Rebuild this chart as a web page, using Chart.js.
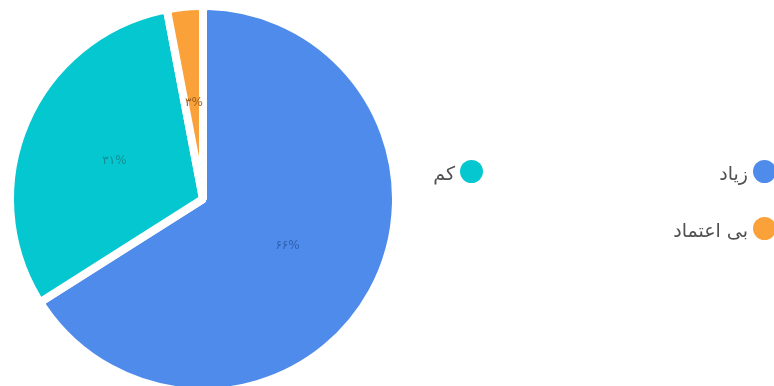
<!DOCTYPE html>
<html lang="fa">
<head>
<meta charset="utf-8">
<title>نمودار اعتماد</title>
<script src="https://cdn.jsdelivr.net/npm/chart.js@4/dist/chart.umd.min.js"></script>
<style>
    html, body { margin: 0; padding: 0; background: #fff; }
    .wrap { position: relative; width: 774px; height: 386px; overflow: hidden; }
    #trustChart { position: absolute; left: 0; top: 0; }
    #legendBox {
        position: absolute;
        right: -2px;
        top: 160px;
        margin: 0;
        padding: 0;
        list-style: none;
        direction: rtl;
        display: grid;
        grid-template-columns: 293px auto;
        row-gap: 34px;
        font-family: "DejaVu Sans", sans-serif;
        font-size: 19px;
        color: #505050;
    }
    #legendBox li { display: flex; align-items: center; height: 23px; cursor: pointer; }
    #legendBox .dot { width: 23px; height: 23px; border-radius: 50%; margin-left: 5px; flex: none; }
    #legendBox .txt { position: relative; top: 1px; }
    #legendBox li.off span.txt { text-decoration: line-through; }
</style>
</head>
<body>
<div class="wrap">
    <canvas id="trustChart" width="774" height="386"></canvas>
    <ul id="legendBox"></ul>
</div>
<script>
// Chart data
const categories = ['زیاد', 'کم', 'بی اعتماد'];
const values = [66, 31, 3];
const sliceColors = ['#4F8BEA', '#05C7CF', '#FBA13A'];
const valueColors = ['#3060B0', '#138E94', '#9A5C18'];

const faDigits = '۰۱۲۳۴۵۶۷۸۹';
function toPersian(n) {
    return String(n).replace(/[0-9]/g, d => faDigits[d]);
}

// Draws the percentage in the middle of every slice
const sliceValues = {
    id: 'sliceValues',
    afterDatasetsDraw(chart) {
        const ctx = chart.ctx;
        const meta = chart.getDatasetMeta(0);
        ctx.save();
        ctx.font = '12px "DejaVu Sans", sans-serif';
        ctx.textAlign = 'center';
        ctx.textBaseline = 'middle';
        meta.data.forEach((arc, i) => {
            if (!chart.getDataVisibility(i)) return;
            const p = arc.getCenterPoint();
            ctx.fillStyle = valueColors[i];
            ctx.fillText(toPersian(values[i]) + '%', p.x, p.y);
        });
        ctx.restore();
    }
};

// Builds the legend as a list next to the canvas
const htmlLegend = {
    id: 'htmlLegend',
    afterUpdate(chart) {
        const ul = document.getElementById('legendBox');
        ul.innerHTML = '';
        const items = chart.options.plugins.legend.labels.generateLabels(chart);
        items.forEach(item => {
            const li = document.createElement('li');
            if (item.hidden) li.className = 'off';
            li.innerHTML = `<span class="dot" style="background:${item.fillStyle}"></span><span class="txt">${item.text}</span>`;
            li.onclick = () => {
                chart.toggleDataVisibility(item.index);
                chart.update();
            };
            ul.appendChild(li);
        });
    }
};

const ctx = document.getElementById('trustChart').getContext('2d');
new Chart(ctx, {
    type: 'pie',
    data: {
        labels: categories,
        datasets: [{
            data: values,
            backgroundColor: sliceColors,
            borderColor: '#ffffff',
            borderWidth: 8,
            borderRadius: 5,
            hoverOffset: 0
        }]
    },
    options: {
        responsive: false,
        animation: false,
        radius: 193,
        layout: {
            padding: { top: 12, right: 368, bottom: 0, left: 0 }
        },
        plugins: {
            legend: { display: false },
            tooltip: { enabled: true }
        }
    },
    plugins: [sliceValues, htmlLegend]
});
</script>
</body>
</html>
